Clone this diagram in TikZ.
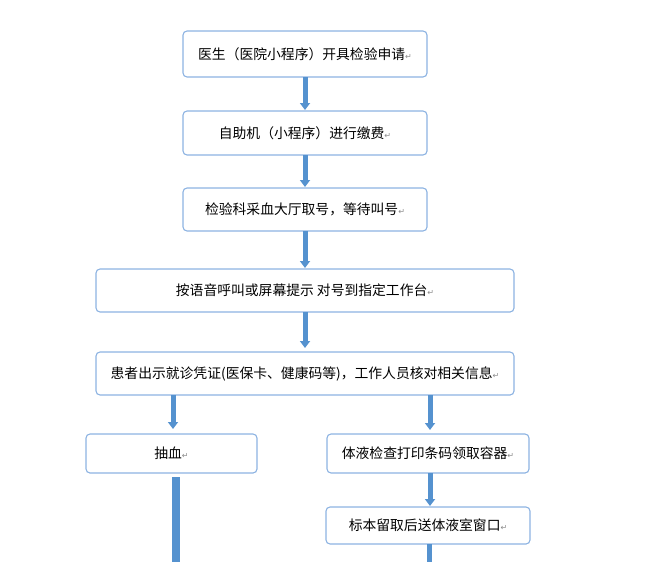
\documentclass[tikz,border=0pt]{standalone}
\usepackage{fontspec}
\setmainfont{Noto Sans CJK SC}
\newfontfamily\markfont{DejaVu Sans}
\usepackage{xcolor}
\definecolor{flowBorder}{HTML}{8DB3E2}
\definecolor{flowArrow}{HTML}{5592CF}
\definecolor{flowMark}{HTML}{8C8C8C}
\usetikzlibrary{arrows.meta,positioning}
\newcommand{\parmark}{{\markfont\color{flowMark}\fontsize{8}{8}\selectfont ↵}}
\tikzset{
    stepbox/.style={
        draw=flowBorder,
        fill=white,
        rectangle,
        rounded corners=4pt,
        line width=1.1pt,
        outer sep=0pt,
        align=center,
        inner sep=2pt,
        font=\fontsize{13.8}{16}\selectfont
    },
    blockarrow/.style={
        -{Triangle[width=10pt,length=7pt]},
        line width=5pt,
        color=flowArrow,
        shorten >=1pt
    },
    bar/.style={
        line width=5pt,
        color=flowArrow
    }
}

\begin{document}
\begin{tikzpicture}[x=1pt,y=-1pt]
    \useasboundingbox (0,0) rectangle (652,562);

    % main column
    \node[stepbox, minimum width=244pt, minimum height=46pt] (order) at (305,54) {医生（医院小程序）开具检验申请\parmark};
    \node[stepbox, minimum width=244pt, minimum height=44pt, below=34pt of order] (pay) {自助机（小程序）进行缴费\parmark};
    \node[stepbox, minimum width=244pt, minimum height=43pt, below=33pt of pay] (queue) {检验科采血大厅取号，等待叫号\parmark};
    \node[stepbox, minimum width=418pt, minimum height=43pt, below=38pt of queue] (call) {按语音呼叫或屏幕提示 对号到指定工作台\parmark};
    \node[stepbox, minimum width=418pt, minimum height=43pt, below=40pt of call] (check) {患者出示就诊凭证(医保卡、健康码等)，工作人员核对相关信息\parmark};

    % two branches
    \node[stepbox, minimum width=171pt, minimum height=39pt] (blood) at (171.5,453.5) {抽血\parmark};
    \node[stepbox, minimum width=202pt, minimum height=39pt] (fluid) at (428,453.5) {体液检查打印条码领取容器\parmark};
    \node[stepbox, minimum width=204pt, minimum height=37pt, below=34pt of fluid] (sample) {标本留取后送体液室窗口\parmark};

    % page edge
    \coordinate (edge) at (0,562);

    % arrows
    \draw[blockarrow] (order) -- (pay);
    \draw[blockarrow] (pay) -- (queue);
    \draw[blockarrow] (queue) -- (call);
    \draw[blockarrow, shorten >=4pt] (call) -- (check);
    \draw[blockarrow, shorten >=5pt] (check.south -| blood.north) ++(1.5,0) -- ([xshift=1.5pt]blood.north);
    \draw[blockarrow, shorten >=4pt] (check.south -| fluid.north) ++(2,0) -- ([xshift=2pt]fluid.north);
    \draw[blockarrow] ([xshift=2pt]fluid.south) -- ([xshift=2pt]sample.north);
    \draw[bar, line width=8pt] ([xshift=4pt,yshift=-4pt]blood.south) -- ([xshift=4pt]blood.south |- edge);
    \draw[bar] ([xshift=1pt]sample.south) -- ([xshift=1pt]sample.south |- edge);
\end{tikzpicture}
\end{document}
